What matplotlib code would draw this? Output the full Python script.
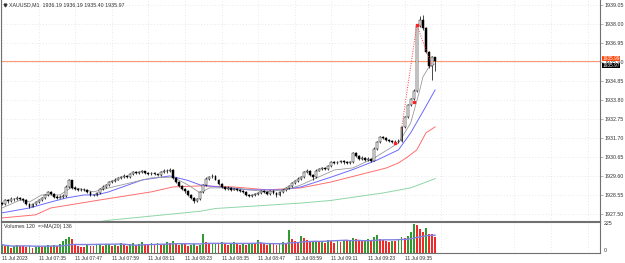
import matplotlib
matplotlib.use("Agg")
import matplotlib.pyplot as plt
import numpy as np
import pandas as pd

plt.rcParams["font.family"] = ["Liberation Sans", "DejaVu Sans"]

# ---- data (XAUUSD M1, 11 Jul 2023, 07:23 .. 09:45) ----
header_text = "XAUUSD,M1  1936.19 1936.19 1935.40 1935.97"
volume_header = "Volumes 120  =>MA(20) 136"

opens = [
    1928.10, 1928.05, 1928.25, 1928.20, 1928.35, 1928.30, 1928.40, 1928.30, 1928.25, 1928.05,
    1927.90, 1928.05, 1928.15, 1928.25, 1928.40, 1928.55, 1928.70, 1928.60, 1928.45, 1928.40,
    1928.45, 1928.50, 1929.00, 1929.35, 1928.95, 1928.90, 1928.85, 1928.80, 1928.85, 1928.70,
    1928.55, 1928.55, 1928.65, 1928.90, 1929.00, 1929.10, 1929.25, 1929.30, 1929.40, 1929.50,
    1929.55, 1929.60, 1929.55, 1929.70, 1929.80, 1929.75, 1929.80, 1929.85, 1929.75, 1929.70,
    1929.75, 1929.70, 1929.65, 1929.80, 1929.90, 1929.85, 1929.95, 1929.50, 1929.25, 1929.05,
    1928.90, 1928.75, 1928.55, 1928.40, 1928.20, 1928.30, 1928.70, 1929.10, 1929.45, 1929.55,
    1929.60, 1929.40, 1929.15, 1929.00, 1928.90, 1928.95, 1928.85, 1928.90, 1928.80, 1928.75,
    1928.70, 1928.55, 1928.50, 1928.55, 1928.60, 1928.65, 1928.75, 1928.70, 1928.60, 1928.75,
    1928.65, 1928.55, 1928.70, 1928.80, 1928.95, 1929.05, 1929.20, 1929.30, 1929.45, 1929.55,
    1929.80, 1929.90, 1929.65, 1929.55, 1929.90, 1930.00, 1930.05, 1930.00, 1930.15, 1930.35,
    1930.30, 1930.35, 1930.40, 1930.35, 1930.30, 1930.35, 1930.85, 1930.70, 1930.55, 1930.60,
    1930.50, 1930.55, 1930.45, 1931.10, 1931.45, 1931.75, 1931.70, 1931.60, 1931.55, 1931.50,
    1931.45, 1931.55, 1932.30, 1932.85, 1933.50, 1933.85, 1934.30, 1937.90, 1938.20, 1937.75,
    1936.45, 1935.65, 1936.19,
]
highs = [
    1928.15, 1928.30, 1928.32, 1928.42, 1928.40, 1928.48, 1928.45, 1928.36, 1928.30, 1928.10,
    1928.10, 1928.22, 1928.30, 1928.46, 1928.60, 1928.78, 1928.75, 1928.66, 1928.52, 1928.52,
    1928.58, 1929.08, 1929.45, 1929.40, 1929.02, 1928.96, 1928.92, 1928.92, 1928.90, 1928.75,
    1928.62, 1928.72, 1928.96, 1929.08, 1929.16, 1929.32, 1929.38, 1929.46, 1929.56, 1929.62,
    1929.68, 1929.66, 1929.76, 1929.88, 1929.86, 1929.86, 1929.92, 1929.90, 1929.80, 1929.82,
    1929.80, 1929.76, 1929.86, 1929.98, 1929.96, 1930.05, 1930.00, 1929.56, 1929.32, 1929.12,
    1928.96, 1928.82, 1928.62, 1928.46, 1928.38, 1928.78, 1929.18, 1929.52, 1929.62, 1929.68,
    1929.65, 1929.45, 1929.20, 1929.06, 1929.02, 1929.00, 1928.96, 1928.95, 1928.86, 1928.80,
    1928.76, 1928.62, 1928.62, 1928.66, 1928.72, 1928.82, 1928.80, 1928.75, 1928.82, 1928.80,
    1928.70, 1928.76, 1928.86, 1929.00, 1929.12, 1929.26, 1929.36, 1929.52, 1929.62, 1929.88,
    1929.98, 1929.95, 1929.70, 1929.96, 1930.06, 1930.12, 1930.10, 1930.22, 1930.42, 1930.40,
    1930.42, 1930.48, 1930.46, 1930.40, 1930.42, 1930.92, 1930.90, 1930.76, 1930.68, 1930.66,
    1930.62, 1930.60, 1931.18, 1931.52, 1931.82, 1931.80, 1931.76, 1931.66, 1931.60, 1931.56,
    1931.62, 1932.38, 1932.92, 1933.58, 1933.92, 1934.38, 1937.98, 1938.45, 1938.50, 1937.82,
    1936.52, 1936.25, 1936.19,
]
lows = [
    1927.98, 1928.00, 1928.12, 1928.15, 1928.22, 1928.26, 1928.25, 1928.18, 1928.00, 1927.82,
    1927.86, 1928.00, 1928.10, 1928.20, 1928.35, 1928.50, 1928.55, 1928.40, 1928.35, 1928.36,
    1928.40, 1928.46, 1928.95, 1928.90, 1928.84, 1928.78, 1928.74, 1928.76, 1928.64, 1928.48,
    1928.48, 1928.50, 1928.60, 1928.85, 1928.95, 1929.05, 1929.20, 1929.24, 1929.35, 1929.45,
    1929.50, 1929.48, 1929.50, 1929.65, 1929.70, 1929.70, 1929.75, 1929.70, 1929.64, 1929.65,
    1929.64, 1929.58, 1929.60, 1929.75, 1929.78, 1929.80, 1929.45, 1929.20, 1929.00, 1928.85,
    1928.68, 1928.50, 1928.34, 1928.10, 1928.14, 1928.26, 1928.65, 1929.05, 1929.40, 1929.48,
    1929.35, 1929.10, 1928.94, 1928.84, 1928.85, 1928.78, 1928.80, 1928.74, 1928.70, 1928.64,
    1928.48, 1928.42, 1928.45, 1928.48, 1928.55, 1928.60, 1928.64, 1928.52, 1928.55, 1928.58,
    1928.46, 1928.50, 1928.65, 1928.75, 1928.90, 1929.00, 1929.15, 1929.25, 1929.40, 1929.50,
    1929.75, 1929.60, 1929.40, 1929.50, 1929.85, 1929.95, 1929.94, 1929.95, 1930.10, 1930.24,
    1930.25, 1930.30, 1930.28, 1930.24, 1930.25, 1930.30, 1930.64, 1930.48, 1930.50, 1930.44,
    1930.45, 1930.38, 1930.40, 1931.05, 1931.40, 1931.64, 1931.54, 1931.48, 1931.42, 1931.38,
    1931.40, 1931.50, 1932.25, 1932.80, 1933.45, 1933.80, 1934.25, 1937.82, 1937.65, 1936.40,
    1935.55, 1934.90, 1935.40,
]
closes = [
    1928.05, 1928.25, 1928.20, 1928.35, 1928.30, 1928.40, 1928.30, 1928.25, 1928.05, 1927.90,
    1928.05, 1928.15, 1928.25, 1928.40, 1928.55, 1928.70, 1928.60, 1928.45, 1928.40, 1928.45,
    1928.50, 1929.00, 1929.35, 1928.95, 1928.90, 1928.85, 1928.80, 1928.85, 1928.70, 1928.55,
    1928.55, 1928.65, 1928.90, 1929.00, 1929.10, 1929.25, 1929.30, 1929.40, 1929.50, 1929.55,
    1929.60, 1929.55, 1929.70, 1929.80, 1929.75, 1929.80, 1929.85, 1929.75, 1929.70, 1929.75,
    1929.70, 1929.65, 1929.80, 1929.90, 1929.85, 1929.95, 1929.50, 1929.25, 1929.05, 1928.90,
    1928.75, 1928.55, 1928.40, 1928.20, 1928.30, 1928.70, 1929.10, 1929.45, 1929.55, 1929.60,
    1929.40, 1929.15, 1929.00, 1928.90, 1928.95, 1928.85, 1928.90, 1928.80, 1928.75, 1928.70,
    1928.55, 1928.50, 1928.55, 1928.60, 1928.65, 1928.75, 1928.70, 1928.60, 1928.75, 1928.65,
    1928.55, 1928.70, 1928.80, 1928.95, 1929.05, 1929.20, 1929.30, 1929.45, 1929.55, 1929.80,
    1929.90, 1929.65, 1929.55, 1929.90, 1930.00, 1930.05, 1930.00, 1930.15, 1930.35, 1930.30,
    1930.35, 1930.40, 1930.35, 1930.30, 1930.35, 1930.85, 1930.70, 1930.55, 1930.60, 1930.50,
    1930.55, 1930.45, 1931.10, 1931.45, 1931.75, 1931.70, 1931.60, 1931.55, 1931.50, 1931.45,
    1931.55, 1932.30, 1932.85, 1933.50, 1933.85, 1934.30, 1937.90, 1938.20, 1937.75, 1936.45,
    1935.65, 1936.19, 1935.97,
]
volumes = [
    66, 52, 55, 42, 52, 60, 56, 56, 48, 56,
    36, 48, 54, 50, 56, 60, 52, 62, 56, 66,
    92, 106, 122, 110, 68, 56, 50, 44, 60, 55,
    52, 60, 62, 56, 66, 70, 52, 60, 56, 76,
    66, 56, 68, 80, 62, 72, 86, 68, 60, 76,
    70, 78, 62, 68, 86, 74, 96, 78, 60, 68,
    66, 55, 60, 68, 52, 64, 150, 84, 70, 76,
    78, 72, 84, 66, 62, 76, 88, 68, 60, 70,
    62, 66, 78, 74, 100, 76, 68, 60, 72, 66,
    62, 76, 86, 70, 175, 106, 92, 78, 134, 114,
    100, 84, 94, 96, 82, 88, 76, 100, 90, 78,
    96, 86, 104, 98, 102, 116, 110, 104, 90, 96,
    106, 100, 120, 140, 108, 102, 94, 88, 96, 92,
    100, 122, 114, 132, 162, 222, 215, 185, 165, 190,
    150, 148, 120,
]

# moving averages, sampled at bar indices
ma_fast_bar = [0, 6, 9, 13, 19, 23, 30, 35, 49, 56, 61, 65, 68, 76, 87, 94, 98, 109, 115, 122, 130, 134, 137, 138, 140, 142]
ma_fast = [1927.83, 1928.27, 1928.16, 1928.55, 1928.55, 1928.99, 1928.72, 1928.94, 1929.49, 1929.54, 1929.10,
           1928.66, 1928.94, 1928.94, 1928.72, 1928.88, 1929.10, 1929.93, 1930.04, 1930.59, 1931.42, 1932.53,
           1934.35, 1935.07, 1935.62, 1935.80]
ma_blue_bar = [0, 9, 16, 21, 27, 31, 35, 46, 55, 61, 65, 71, 81, 92, 98, 108, 115, 123, 130, 134, 138, 142]
ma_blue = [1927.56, 1927.83, 1928.16, 1928.38, 1928.55, 1928.55, 1928.72, 1929.38, 1929.60, 1929.35, 1929.10,
           1928.99, 1928.83, 1928.83, 1928.99, 1929.54, 1929.95, 1930.48, 1931.04, 1931.98, 1933.15, 1934.35]
ma_red_bar = [0, 11, 16, 32, 49, 56, 65, 76, 87, 98, 108, 126, 130, 133, 136, 139, 142]
ma_red = [1927.28, 1927.45, 1927.83, 1928.27, 1928.72, 1928.99, 1929.05, 1928.99, 1928.83, 1928.94, 1929.27,
          1930.04, 1930.32, 1930.65, 1931.04, 1931.98, 1932.31]
ma_green_bar = [0, 35, 65, 70, 98, 108, 125, 134, 142]
ma_green = [1926.30, 1927.15, 1927.65, 1927.80, 1928.10, 1928.25, 1928.66, 1928.94, 1929.45]

zigzag_bar = [131, 136, 141]
zigzag_price = [1932.20, 1937.95, 1935.65]
signal_bar = [129, 135, 136]
signal_price = [1931.42, 1933.70, 1937.95]

price_ticks = [1927.50, 1928.55, 1929.60, 1930.65, 1931.70, 1932.75, 1933.80, 1934.85, 1935.90, 1936.95, 1938.00, 1939.05]
time_labels = ["11 Jul 2023", "11 Jul 07:35", "11 Jul 07:47", "11 Jul 07:59", "11 Jul 08:11", "11 Jul 08:23",
               "11 Jul 08:35", "11 Jul 08:47", "11 Jul 08:59", "11 Jul 09:11", "11 Jul 09:23", "11 Jul 09:35"]
bid_price = 1935.97
ask_label = "1935.99"

# ---- figure ----
fig = plt.figure(figsize=(6.25, 2.63), dpi=100)
W, H = 625, 263
ax = fig.add_axes([1 / W, (H - 221) / H, 599 / W, 221 / H])
axv = fig.add_axes([1 / W, (H - 253) / H, 599 / W, 31 / H], sharex=ax)

x = np.arange(len(closes))
o = np.array(opens)
c = np.array(closes)
bull = c >= o
body_lo = np.minimum(o, c)
body_h = np.maximum(np.abs(c - o), 0.02)

grid_kw = dict(color="#d6d6d6", linestyle=(0, (1, 3)), linewidth=0.5)
xgrid = np.arange(0, 200, 12)
for a in (ax, axv):
    for gx in xgrid:
        a.axvline(gx, zorder=0, **grid_kw)
for p in price_ticks:
    ax.axhline(p, zorder=0, **grid_kw)

# moving averages
ax.plot(ma_green_bar, ma_green, color="#8fd6a8", lw=0.7, zorder=1)
ax.plot(ma_red_bar, ma_red, color="#ff6e6e", lw=0.7, zorder=1)
ax.plot(ma_blue_bar, ma_blue, color="#6a6aff", lw=0.7, zorder=1)
ax.plot(ma_fast_bar, ma_fast, color="#9a9a9a", lw=0.6, zorder=1)

# candles
ax.vlines(x, lows, highs, color="black", lw=0.5, zorder=2)
ax.bar(x, body_h, bottom=body_lo, width=0.62,
       color=np.where(bull, "white", "black"), edgecolor="black", linewidth=0.35, zorder=3)

ax.plot(zigzag_bar, zigzag_price, color="#ff4040", lw=0.7, linestyle=(0, (1, 1.5)), zorder=4)
ax.plot(signal_bar, signal_price, "s", color="#ff2020", ms=1.4, zorder=5)

ax.axhline(bid_price, color="#ff9a70", lw=0.8, zorder=1)

ax.set_xlim(-0.33, 196.07)
ax.set_ylim(1927.11, 1939.32)
ax.set_yticks(price_ticks)
ax.set_yticklabels([f"{p:.2f}" for p in price_ticks])
ax.yaxis.tick_right()
ax.tick_params(axis="y", labelsize=3.8, length=2, width=0.4, color="#808080", pad=1.5, labelcolor="#303030")
ax.tick_params(axis="x", bottom=False, labelbottom=False)
ax.spines["top"].set_visible(False)
for s in ("left", "right", "bottom"):
    ax.spines[s].set_color("#707070")
    ax.spines[s].set_linewidth(0.8)

# current price labels on the scale (they sit over the 1935.90 level label)
ax.text(1.004, bid_price + 0.12, ask_label, transform=ax.get_yaxis_transform(), fontsize=3.4,
        color="white", va="center", ha="left", zorder=10, clip_on=False,
        bbox=dict(boxstyle="square,pad=0.08", fc="#ff4a10", ec="none"))
ax.text(1.004, bid_price - 0.27, f"{bid_price:.2f}", transform=ax.get_yaxis_transform(), fontsize=3.4,
        color="white", va="center", ha="left", zorder=10, clip_on=False,
        bbox=dict(boxstyle="square,pad=0.08", fc="black", ec="none"))

ax.plot([0.006], [0.977], marker="v", color="#303030", ms=2, transform=ax.transAxes, clip_on=False)
ax.text(0.013, 0.977, header_text, transform=ax.transAxes, fontsize=3.8, color="#303030", va="center")

# volumes
v = np.array(volumes)
up = np.concatenate([[True], v[1:] > v[:-1]])
vcol = np.where(up, "#2f9a2f", "#f02a2a")
axv.bar(x, v, width=0.62, color=vcol, zorder=2)
vol_ma = pd.Series(volumes).rolling(20, min_periods=1).mean()
axv.plot(x, vol_ma, color="#8080e0", lw=1.0, zorder=3)
axv.set_ylim(0, 239)
axv.set_yticks([])
axv.text(1.006, 225, "225", transform=axv.get_yaxis_transform(), fontsize=3.8, color="#303030", va="center")
axv.text(1.006, 0, "0", transform=axv.get_yaxis_transform(), fontsize=3.8, color="#303030", va="bottom")
axv.text(0.005, 0.86, volume_header, transform=axv.transAxes, fontsize=3.8, color="#303030", va="center")
for s in ("top", "left", "right", "bottom"):
    axv.spines[s].set_color("#707070")
    axv.spines[s].set_linewidth(0.8)

axv.set_xticks(xgrid)
axv.set_xticklabels(time_labels + [""] * (len(xgrid) - len(time_labels)))
axv.tick_params(axis="x", labelsize=3.6, length=0, pad=2, labelcolor="#303030")
for lab in axv.get_xticklabels():
    lab.set_horizontalalignment("left")

fig.savefig("out.png", dpi=100, facecolor="white")
